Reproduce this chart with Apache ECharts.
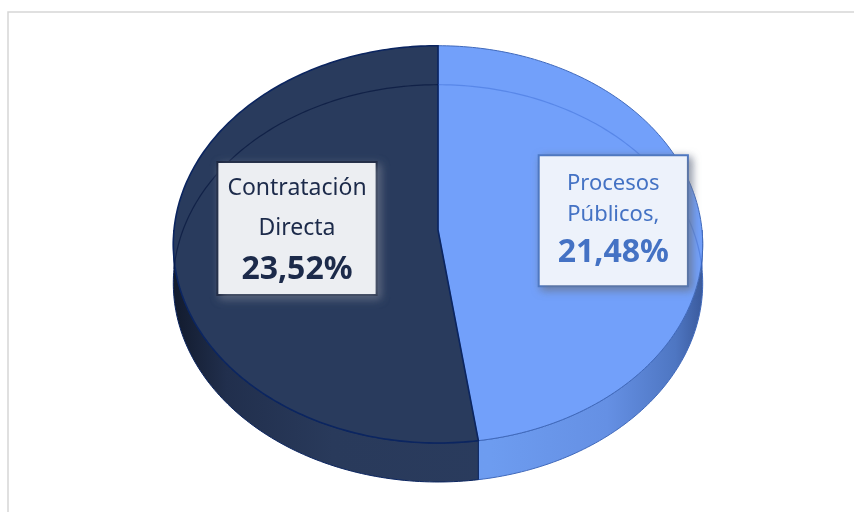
<!DOCTYPE html>
<html>
<head>
<meta charset="utf-8">
<script src="https://cdn.jsdelivr.net/npm/echarts@6/dist/echarts.min.js"></script>
<style>
  html, body { margin: 0; padding: 0; background: #fff; }
  #myChart { width: 854px; height: 512px; }
</style>
</head>
<body>
<div id="myChart"></div>
<script>
// slices, clockwise from 12 o'clock
var categories = ['Procesos Públicos', 'Contratación Directa'];
var values = [21.48, 23.52];
var separators = [',', ''];

// look of each slice
var topColors = ['#72a0fa', '#293b5d'];
var edgeColors = ['#4069bb', '#0b2560'];
var backLine = ['rgba(40,90,200,0.35)', 'rgba(5,20,60,0.65)'];
var sideStops = [
  [{ offset: 0, color: '#6f9ef2' }, { offset: 0.6, color: '#6d9cf0' }, { offset: 0.82, color: '#6590e4' }, { offset: 0.95, color: '#4e76c2' }, { offset: 1, color: '#3b5b9e' }],
  [{ offset: 0, color: '#121b2e' }, { offset: 0.1, color: '#212f4d' }, { offset: 0.3, color: '#293a5b' }, { offset: 1, color: '#2b3d60' }]
];
var labelStyles = [
  { color: '#4472c4', bg: '#edf2fb', border: '#4a78c8', size: 22, lh: 31, vlh: 46, pad: [12, 18, 9, 18], r: 0.668, dy: 0 },
  { color: '#1c2a4a', bg: '#eceef2', border: '#1b2640', size: 23, lh: 40, vlh: 44, pad: [5, 9, 2, 9], r: 0.534, dy: -9 }
];

// 3d pie geometry (perspective ellipse)
var cx = 438, cy = 230, rx = 264, ry = 197.6, persp = 0.0722, depth = 39;

var total = values.reduce(function (s, v) { return s + v; }, 0);
var starts = [], ends = [];
var acc = 0;
values.forEach(function (v) {
  starts.push(acc / total * Math.PI * 2);
  acc += v;
  ends.push(acc / total * Math.PI * 2);
});

function proj (theta, r, drop) {
  var s = 1 / (1 + persp * r * Math.cos(theta));
  return [cx + rx * r * Math.sin(theta) * s, cy - ry * r * Math.cos(theta) * s + (drop || 0)];
}
function rim (a, b, drop) {
  var pts = [];
  var n = Math.max(2, Math.ceil((b - a) / (Math.PI / 180)));
  for (var i = 0; i <= n; i++) pts.push(proj(a + (b - a) * i / n, 1, drop));
  return pts;
}

function renderItem (params, api) {
  var i = params.dataIndex;
  var a = starts[i], b = ends[i];
  var children = [];

  // front wall
  var wa = Math.max(a, Math.PI / 2), wb = Math.min(b, Math.PI * 1.5);
  if (wb > wa) {
    var pts = rim(wa, wb, 0).concat(rim(wa, wb, depth).reverse());
    children.push({
      type: 'polygon', z2: 1,
      shape: { points: pts },
      style: {
        fill: new echarts.graphic.LinearGradient(cx - rx, 0, cx + rx, 0, sideStops[i], true),
        stroke: edgeColors[i], lineWidth: 1
      }
    });
  }

  // back edge of the bottom, seen through the top
  var segs = [[a, Math.min(b, Math.PI / 2)], [Math.max(a, Math.PI * 1.5), b]];
  segs.forEach(function (sg) {
    if (sg[1] > sg[0]) {
      children.push({
        type: 'polyline', z2: 20,
        shape: { points: rim(sg[0], sg[1], depth) },
        style: { stroke: backLine[i], lineWidth: 1.2, fill: null }
      });
    }
  });

  // top face
  children.push({
    type: 'polygon', z2: 10,
    shape: { points: [[cx, cy]].concat(rim(a, b, 0)) },
    style: { fill: topColors[i], stroke: edgeColors[i], lineWidth: i === 1 ? 1.6 : 1 }
  });

  // label box
  var ls = labelStyles[i];
  var p = proj((a + b) / 2, ls.r, ls.dy);
  var pct = api.value(0).toFixed(2).replace('.', ',') + '%';
  var name = categories[i].replace(' ', '\n') + separators[i];
  children.push({
    type: 'text', z2: 100, x: p[0], y: p[1],
    style: {
      text: name + '\n{v|' + pct + '}',
      align: 'center', verticalAlign: 'middle',
      fontSize: ls.size, fontFamily: 'Noto Sans', fill: ls.color, lineHeight: ls.lh,
      rich: { v: { fontSize: 32, fontWeight: 'bold', fontFamily: 'Noto Sans', fill: ls.color, lineHeight: ls.vlh } },
      backgroundColor: ls.bg, borderColor: ls.border, borderWidth: 2, padding: ls.pad,
      shadowColor: 'rgba(105,115,135,0.75)', shadowBlur: 8, shadowOffsetX: 3, shadowOffsetY: 3
    }
  });

  return { type: 'group', children: children };
}

var myChart = echarts.init(document.getElementById('myChart'));
myChart.setOption({
  animation: false,
  graphic: [{
    type: 'rect', silent: true,
    shape: { x: 8, y: 12, width: 900, height: 600 },
    style: { fill: null, stroke: '#d6d6d6', lineWidth: 1.5 }
  }],
  series: [{
    type: 'custom',
    coordinateSystem: 'none',
    renderItem: renderItem,
    data: values.map(function (v, i) { return { name: categories[i], value: v }; })
  }]
});
</script>
</body>
</html>
